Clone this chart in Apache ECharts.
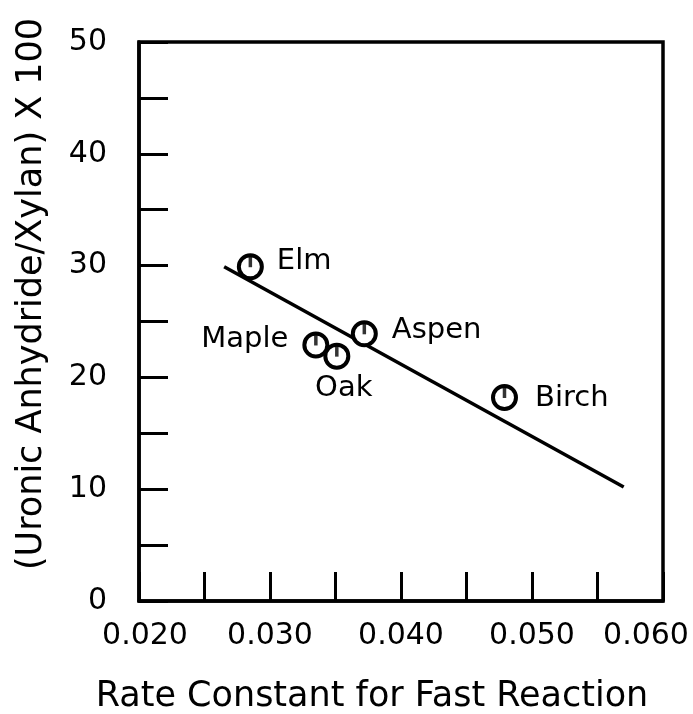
<!DOCTYPE html>
<html>
<head>
<meta charset="utf-8">
<script src="https://cdn.jsdelivr.net/npm/echarts@6/dist/echarts.min.js"></script>
<style>html,body{margin:0;padding:0;background:#fff;}#c{width:693px;height:714px;}</style>
</head>
<body>
<div id="c"></div>
<script>
// ---- data ----
var woodNames = ['Elm', 'Maple', 'Oak', 'Aspen', 'Birch'];
var rateConstant = [0.0285, 0.0335, 0.0351, 0.0372, 0.0479];
var uronicRatio = [29.9, 22.9, 21.9, 23.9, 18.2];
var fitLineX = [0.0265, 0.0570];
var fitLineY = [29.9, 10.2];
var xTickLabels = ['0.020', '0.030', '0.040', '0.050', '0.060'];
var yTickLabels = ['0', '10', '20', '30', '40', '50'];
var xTitle = 'Rate Constant for Fast Reaction';
var yTitle = '(Uronic Anhydride/Xylan) X 100';

// ---- styling (not data) ----
var FONT = 'DejaVu Sans';
var labelStyle = {
  Elm:   { position: 'right',  distance: 13, offset: [0, -5] },
  Maple: { position: 'left',   distance: 14, offset: [0, -6] },
  Oak:   { position: 'bottom', distance: 4,  offset: [7, 0] },
  Aspen: { position: 'right',  distance: 14, offset: [0, -3] },
  Birch: { position: 'right',  distance: 17, offset: [0, 1] }
};
var tickFont = { fontFamily: FONT, fontSize: 30, color: '#000' };

var pts = woodNames.map(function (n, i) {
  var ls = labelStyle[n];
  return {
    name: n,
    value: [rateConstant[i], uronicRatio[i]],
    label: { show: true, formatter: n, position: ls.position, distance: ls.distance, offset: ls.offset }
  };
});
var barPts = woodNames.map(function (n, i) { return [rateConstant[i], uronicRatio[i]]; });
var linePts = fitLineX.map(function (x, i) { return [x, fitLineY[i]]; });

var chart = echarts.init(document.getElementById('c'), null, { renderer: 'canvas' });
chart.setOption({
  animation: false,
  backgroundColor: '#fff',
  grid: { left: 139, top: 42, right: 30, bottom: 113, outerBoundsMode: 'none', containLabel: false, show: true, borderColor: '#000', borderWidth: 3.5, backgroundColor: 'transparent' },
  xAxis: {
    type: 'value', min: 0.020, max: 0.060, interval: 0.005,
    axisLine: { show: true, lineStyle: { color: '#000', width: 3.5 } },
    axisTick: { show: true, inside: true, length: 29, lineStyle: { color: '#000', width: 3 } },
    splitLine: { show: false },
    axisLabel: {
      color: '#000', fontFamily: FONT, fontSize: 30, margin: 20, showMinLabel: true, showMaxLabel: true,
      rich: {
        first: Object.assign({ padding: [0, 0, 0, 12] }, tickFont),
        mid: Object.assign({}, tickFont),
        last: Object.assign({ padding: [0, 34, 0, 0] }, tickFont)
      },
      formatter: function (v) {
        var k = Math.round(v * 1000);
        if (k % 10 !== 0) return '';
        var idx = (k - 20) / 10;
        var t = xTickLabels[idx];
        if (!t) return '';
        var key = idx === 0 ? 'first' : (idx === xTickLabels.length - 1 ? 'last' : 'mid');
        return '{' + key + '|' + t + '}';
      }
    }
  },
  yAxis: {
    type: 'value', min: 0, max: 50, interval: 5,
    axisLine: { show: true, lineStyle: { color: '#000', width: 3.5 } },
    axisTick: { show: true, inside: true, length: 29, lineStyle: { color: '#000', width: 3 } },
    splitLine: { show: false },
    axisLabel: {
      color: '#000', fontFamily: FONT, fontSize: 30, margin: 32, showMinLabel: true, showMaxLabel: true,
      formatter: function (v) {
        var k = Math.round(v);
        if (k % 10 !== 0) return '';
        return yTickLabels[k / 10] || '';
      }
    }
  },
  graphic: [
    { type: 'text', x: 372, y: 697, style: { text: xTitle, fontFamily: FONT, fontSize: 35, fill: '#000', align: 'center', verticalAlign: 'middle' } },
    { type: 'text', x: 32, y: 294, rotation: Math.PI / 2, style: { text: yTitle, fontFamily: FONT, fontSize: 35, fill: '#000', align: 'center', verticalAlign: 'middle' } }
  ],
  series: [
    {
      type: 'line', data: linePts, symbol: 'none', z: 1,
      lineStyle: { color: '#000', width: 3.5 }
    },
    {
      type: 'scatter', data: pts, symbol: 'circle', symbolSize: 23, z: 3,
      itemStyle: { color: '#fff', borderColor: '#000', borderWidth: 4, opacity: 1 },
      label: { color: '#000', fontFamily: FONT, fontSize: 29 }
    },
    {
      type: 'scatter', data: barPts, symbol: 'rect', symbolSize: [3.5, 11], symbolOffset: [0, -5], z: 4,
      itemStyle: { color: '#000' }, silent: true
    }
  ]
});
</script>
</body>
</html>
